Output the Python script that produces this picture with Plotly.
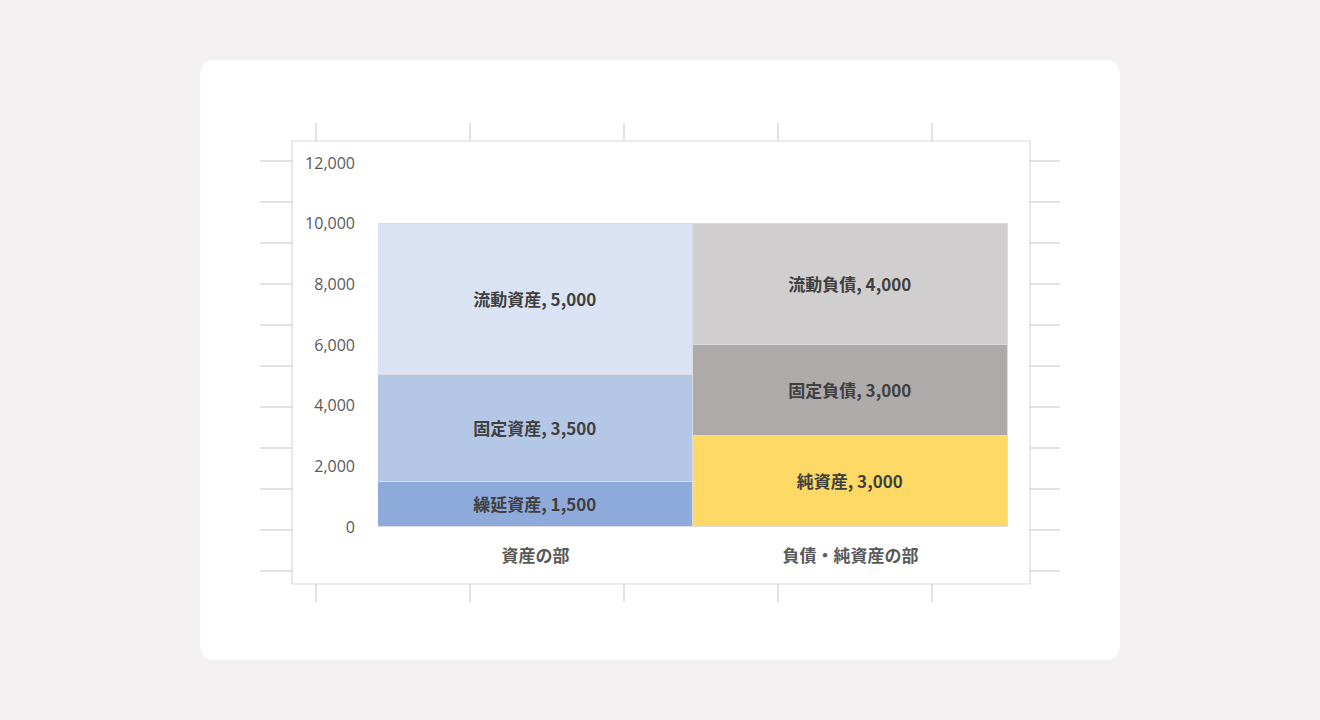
import plotly.graph_objects as go

categories = ["資産の部", "負債・純資産の部"]
asset_names = ["繰延資産", "固定資産", "流動資産"]
asset_values = [1500, 3500, 5000]
asset_colors = ["#8eaadb", "#b4c7e7", "#dae3f3"]
liab_names = ["純資産", "固定負債", "流動負債"]
liab_values = [3000, 3000, 4000]
liab_colors = ["#ffd966", "#aeaaaa", "#d0cece"]
y_ticks = [0, 2000, 4000, 6000, 8000, 10000, 12000]
y_tick_labels = ["0", "2,000", "4,000", "6,000", "8,000", "10,000", "12,000"]

W, H = 1320, 720
def px(x):
    return x / W
def py(y):
    return 1 - y / H

FONT = "Open Sans, Noto Sans CJK JP, sans-serif"
JFONT = "Noto Sans CJK JP, sans-serif"

fig = go.Figure()
for cat, names, vals, cols in [(categories[0], asset_names, asset_values, asset_colors),
                               (categories[1], liab_names, liab_values, liab_colors)]:
    for n, v, c in zip(names, vals, cols):
        fig.add_trace(go.Bar(
            x=[cat], y=[v], name=n,
            marker=dict(color=c, line=dict(color="#dcdcdc", width=1.5)),
            text=[f"{n}, {v:,}"], textposition="inside", insidetextanchor="middle",
            textangle=0, constraintext="none",
            textfont=dict(family=JFONT, size=17, color="#404040", weight="bold"),
            hoverinfo="skip", showlegend=False,
        ))

shapes = []
# card
x0, y0, x1, y1, r = 200, 60, 1120, 660, 16
path = (f"M {px(x0+r)},{py(y0)} L {px(x1-r)},{py(y0)} Q {px(x1)},{py(y0)} {px(x1)},{py(y0+r)} "
        f"L {px(x1)},{py(y1-r)} Q {px(x1)},{py(y1)} {px(x1-r)},{py(y1)} "
        f"L {px(x0+r)},{py(y1)} Q {px(x0)},{py(y1)} {px(x0)},{py(y1-r)} "
        f"L {px(x0)},{py(y0+r)} Q {px(x0)},{py(y0)} {px(x0+r)},{py(y0)} Z")
shapes.append(dict(type="path", path=path, xref="paper", yref="paper",
                   fillcolor="white", line=dict(width=0), layer="below"))
# chart frame
shapes.append(dict(type="rect", xref="paper", yref="paper", x0=px(292), x1=px(1030),
                   y0=py(584), y1=py(141), line=dict(color="#d9d9d9", width=1.2),
                   fillcolor="rgba(0,0,0,0)", layer="below"))
tick_col = "#d0d0d0"
for yy in [161, 202, 243, 284, 325, 366, 407, 448, 489, 530, 571]:
    shapes.append(dict(type="line", xref="paper", yref="paper", x0=px(260), x1=px(292),
                       y0=py(yy), y1=py(yy), line=dict(color=tick_col, width=1.2)))
    shapes.append(dict(type="line", xref="paper", yref="paper", x0=px(1030), x1=px(1060),
                       y0=py(yy), y1=py(yy), line=dict(color=tick_col, width=1.2)))
for xx in [316, 470, 624, 778, 932]:
    shapes.append(dict(type="line", xref="paper", yref="paper", x0=px(xx), x1=px(xx),
                       y0=py(123), y1=py(141), line=dict(color=tick_col, width=1.2)))
    shapes.append(dict(type="line", xref="paper", yref="paper", x0=px(xx), x1=px(xx),
                       y0=py(584), y1=py(602), line=dict(color=tick_col, width=1.2)))

fig.update_layout(
    width=W, height=H,
    margin=dict(l=0, r=0, t=0, b=0, pad=0, autoexpand=False),
    paper_bgcolor="#f2f0f1", plot_bgcolor="rgba(0,0,0,0)",
    barmode="stack", bargap=0,
    shapes=shapes,
    xaxis=dict(domain=[px(378), px(1008)], showgrid=False, showline=False,
               ticks="", ticklabelstandoff=17, automargin=False,
               tickfont=dict(family=JFONT, size=17, color="#595959", weight="bold")),
    yaxis=dict(domain=[py(527), py(163)], range=[0, 12000], tickvals=y_ticks,
               ticktext=y_tick_labels, showgrid=True, gridcolor="#d9d9d9", gridwidth=1,
               zeroline=False, showline=False, ticks="", ticklabelstandoff=22,
               automargin=False,
               tickfont=dict(family=FONT, size=16, color="#595959")),
)

fig.write_html("out.html", config={"displayModeBar": False},
               post_script="document.body.style.margin='0';document.body.style.padding='0';document.body.style.background='#f2f0f1';")
